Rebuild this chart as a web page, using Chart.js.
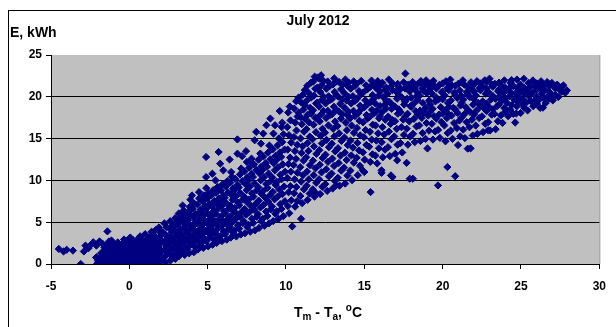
<!DOCTYPE html>
<html>
<head>
<meta charset="utf-8">
<script src="https://cdn.jsdelivr.net/npm/chart.js@4.4.1/dist/chart.umd.min.js"></script>
<style>
  html, body { margin: 0; padding: 0; background: #fff; }
  #chart-canvas { display: block; }
</style>
</head>
<body>
<canvas id="chart-canvas" width="616" height="327"></canvas>
<script>
//////////////////////////////////////////////////
/////       Data  /////////
//////////////////////////////////////////////////

var chartTitle = "July 2012";
var yTitle = "E, kWh";
var xTicks = [-5, 0, 5, 10, 15, 20, 25, 30];
var yTicks = [0, 5, 10, 15, 20, 25];

// pairs: x (Tm - Ta, °C), y (E, kWh)
var tailPts = [
    -4.5,1.8, -4.2,1.5, -4.0,1.7, -3.6,1.6, -3.1,0.0, -2.9,1.5, -2.8,2.2, -2.6,1.9, -2.4,2.4,
    -2.3,2.6, -2.1,2.2, -1.9,2.7, -1.7,2.4, -1.4,3.9, -2.1,0.8, -1.8,1.3, -1.6,2.0, -1.5,1.5,
    -1.3,2.7, -1.2,1.8, -2.0,0.4, -1.9,0.0
];

var originPts = [
    -2.05,0.05, -1.92,0.42, -2.12,0.78, -1.96,0.18,
    -1.74,0.02, -1.61,0.47, -1.83,0.86, -1.68,1.27, -1.57,1.66, -1.78,0.31,
    -1.43,0.12, -1.29,0.58, -1.52,0.95, -1.38,1.41, -1.27,1.83, -1.49,2.17, -1.36,0.33,
    -1.12,0.03, -0.97,0.36, -1.21,0.74, -1.06,1.19, -0.94,1.62, -1.18,2.04, -1.03,2.47, -1.14,2.81,
    -0.83,0.15, -0.68,0.55, -0.91,0.97, -0.77,1.35, -0.66,1.78, -0.88,2.23, -0.74,2.58,
    -0.52,0.02, -0.41,0.38, -0.63,0.83, -0.47,1.16, -0.36,1.59, -0.58,1.98, -0.45,2.43, -0.34,2.93,
    -0.24,0.11, -0.08,0.52, -0.31,0.91, -0.17,1.33, -0.05,1.72, -0.28,2.12, -0.13,2.52, -0.02,3.04,
    0.07,0.03, 0.21,0.44, -0.01,0.82, 0.14,1.24, 0.26,1.63, 0.03,2.06, 0.18,2.39, 0.24,2.84, 0.06,3.17,
    0.38,0.14, 0.52,0.49, 0.31,0.93, 0.44,1.31, 0.56,1.74, 0.33,2.15, 0.47,2.56, 0.53,2.96,
    0.71,0.01, 0.84,0.37, 0.63,0.79, 0.76,1.18, 0.87,1.61, 0.64,2.03, 0.73,2.44, 0.86,2.87, 0.69,3.31,
    1.02,0.09, 1.13,0.53, 0.94,0.88, 1.07,1.34, 1.16,1.69, 0.96,2.12, 1.04,2.53, 1.15,2.93, 1.01,3.57,
    1.28,0.02, 1.41,0.41, 1.23,0.84, 1.34,1.22, 1.44,1.63, 1.22,1.97, 1.36,2.41, 1.43,2.83, 1.29,3.24, 1.42,3.86,
    1.57,0.12, 1.71,0.46, 1.52,0.91, 1.63,1.27, 1.74,1.71, 1.55,2.14, 1.62,2.48, 1.73,2.91, 1.58,3.38, 1.69,4.07,
    1.88,0.04, 2.02,0.39, 1.83,0.82, 1.94,1.24, 2.04,1.58, 1.85,2.02, 1.97,2.43, 2.03,2.79, 1.91,3.23, 2.01,3.72, 1.89,4.38
];

var risePts = [
    2.31,0.18, 2.17,0.71, 2.41,1.12, 2.26,1.69, 2.35,2.05, 2.19,2.62, 2.43,2.94, 2.28,3.51, 2.14,3.83, 2.39,4.41, 2.24,4.86,
    2.62,0.41, 2.75,0.86, 2.51,1.39, 2.68,1.72, 2.57,2.38, 2.73,2.81, 2.54,3.19, 2.69,3.77, 2.59,4.22, 2.76,4.63, 2.61,5.12,
    2.94,0.62, 2.83,1.05, 3.03,1.58, 2.88,2.03, 2.97,2.49, 2.81,3.08, 3.05,3.42, 2.92,3.96, 2.86,4.51, 3.01,4.87, 2.93,5.49,
    3.17,0.93, 3.32,1.31, 3.11,1.84, 3.26,2.21, 3.14,2.78, 3.35,3.17, 3.19,3.72, 3.28,4.13, 3.09,4.69, 3.24,5.21, 3.33,5.62, 3.16,6.05,
    3.53,1.08, 3.42,1.62, 3.64,1.97, 3.48,2.58, 3.59,2.96, 3.41,3.47, 3.67,3.91, 3.51,4.44, 3.45,4.97, 3.62,5.38, 3.54,5.94, 3.47,6.41,
    3.82,1.27, 3.71,1.75, 3.93,2.33, 3.78,2.71, 3.88,3.28, 3.72,3.74, 3.95,4.22, 3.81,4.76, 3.74,5.19, 3.89,5.83, 3.79,6.29, 3.86,6.84,
    4.12,1.41, 4.24,1.96, 4.03,2.41, 4.17,2.97, 4.08,3.46, 4.26,3.89, 4.05,4.48, 4.19,4.93, 4.11,5.52, 4.22,6.01, 4.04,6.63, 4.15,7.22,
    4.38,1.73, 4.52,2.19, 4.31,2.78, 4.47,3.24, 4.36,3.82, 4.55,4.27, 4.33,4.86, 4.49,5.33, 4.41,5.94, 4.53,6.47, 4.35,7.12, 4.46,7.86,
    4.72,1.92, 4.61,2.51, 4.83,2.97, 4.68,3.58, 4.79,4.04, 4.64,4.63, 4.85,5.12, 4.71,5.74, 4.62,6.26, 4.81,6.91, 4.69,7.48, 4.76,8.21,
    5.03,2.11, 4.92,2.72, 5.14,3.21, 4.98,3.83, 5.09,4.29, 4.94,4.91, 5.16,5.42, 5.01,6.06, 4.93,6.63, 5.12,7.21, 4.97,7.86, 5.06,8.52, 4.91,9.08,
    5.32,2.31, 5.43,2.89, 5.21,3.47, 5.37,3.98, 5.26,4.61, 5.45,5.13, 5.23,5.71, 5.39,6.34, 5.29,6.87, 5.44,7.52, 5.22,8.17, 5.35,8.83,
    5.58,2.53, 5.71,3.12, 5.52,3.63, 5.66,4.27, 5.55,4.84, 5.74,5.38, 5.51,6.02, 5.67,6.61, 5.59,7.26, 5.73,7.83, 5.54,8.51, 5.64,9.22,
    5.91,2.74, 5.82,3.36, 6.03,3.94, 5.87,4.52, 5.98,5.13, 5.83,5.67, 6.04,6.32, 5.89,6.94, 5.81,7.53, 6.01,8.18, 5.86,8.81, 5.95,9.53,
    6.22,2.91, 6.11,3.58, 6.33,4.13, 6.17,4.79, 6.28,5.36, 6.12,6.03, 6.35,6.61, 6.19,7.27, 6.09,7.92, 6.31,8.56, 6.16,9.27, 6.25,9.91,
    6.48,3.16, 6.62,3.78, 6.41,4.44, 6.57,5.02, 6.46,5.71, 6.64,6.33, 6.43,6.97, 6.59,7.68, 6.51,8.31, 6.63,9.04, 6.44,9.73, 6.55,10.42,
    6.83,3.29, 6.71,4.02, 6.93,4.64, 6.77,5.36, 6.88,5.97, 6.72,6.71, 6.94,7.34, 6.79,8.08, 6.69,8.76, 6.91,9.47, 6.76,10.18,
    7.12,3.53, 7.01,4.23, 7.23,4.91, 7.07,5.63, 7.18,6.28, 7.02,7.03, 7.24,7.71, 7.09,8.46, 6.99,9.17, 7.21,9.93, 7.06,10.71, 7.14,11.42,
    7.38,3.68, 7.52,4.44, 7.31,5.12, 7.47,5.91, 7.36,6.58, 7.54,7.36, 7.33,8.04, 7.49,8.83, 7.41,9.56, 7.53,10.34, 7.35,11.07,
    7.72,3.86, 7.61,4.68, 7.83,5.41, 7.67,6.19, 7.78,6.92, 7.62,7.71, 7.84,8.43, 7.69,9.23, 7.59,9.97, 7.81,10.79, 7.66,11.53, 7.74,12.31,
    8.02,4.03, 7.91,4.92, 8.13,5.64, 7.97,6.47, 8.08,7.23, 7.92,8.06, 8.14,8.82, 7.99,9.63, 7.89,10.41, 8.11,11.24, 7.96,11.93,
    8.28,4.31, 8.42,5.13, 8.21,5.97, 8.37,6.76, 8.26,7.58, 8.44,8.37, 8.23,9.18, 8.39,10.02, 8.31,10.83, 8.43,11.66, 8.25,12.48, 8.36,13.21,
    8.63,4.58, 8.51,5.41, 8.73,6.27, 8.57,7.08, 8.68,7.93, 8.52,8.71, 8.74,9.57, 8.59,10.38, 8.49,11.24, 8.71,12.07, 8.56,12.86,
    8.92,4.86, 8.81,5.73, 9.03,6.54, 8.87,7.42, 8.98,8.23, 8.82,9.11, 9.04,9.93, 8.89,10.81, 8.79,11.63, 9.01,12.52, 8.86,13.34, 8.94,14.17,
    9.18,5.13, 9.32,6.02, 9.11,6.88, 9.27,7.74, 9.16,8.62, 9.34,9.46, 9.13,10.34, 9.29,11.21, 9.21,12.06, 9.33,12.93, 9.15,13.71,
    9.52,5.41, 9.41,6.31, 9.63,7.16, 9.47,8.07, 9.58,8.91, 9.42,9.82, 9.64,10.67, 9.49,11.57, 9.39,12.43, 9.61,13.34, 9.46,14.18, 9.54,15.02,
    9.83,5.72, 9.71,6.58, 9.93,7.51, 9.77,8.36, 9.88,9.27, 9.72,10.14, 9.94,11.03, 9.79,11.92, 9.69,12.81, 9.91,13.69, 9.76,14.58, 9.84,15.51, 9.73,16.38
];

var riseSparse = [
    4.9,12.8, 4.9,10.4, 5.7,13.4, 5.8,12.0, 6.0,11.2, 6.5,11.0, 6.9,14.9, 6.9,13.2, 7.45,13.5,
    7.5,12.2, 7.8,12.6, 8.1,15.8, 8.4,14.4, 8.75,16.6, 9.2,15.6, 9.6,18.3, 9.76,16.9, 9.3,16.6,
    8.55,15.6, 5.5,10.0, 4.45,8.6, 3.9,7.7, 6.4,12.5, 7.2,12.9, 8.0,14.8, 9.0,17.4, 5.3,10.8,
    3.4,7.0, 4.0,8.2
];

var midPts = [
    10.21,6.07, 10.12,6.93, 10.34,7.62, 10.17,8.58, 10.28,9.31, 10.09,10.27, 10.31,11.04, 10.16,11.96, 10.26,12.73, 10.11,13.68, 10.33,14.52, 10.19,15.41, 10.08,16.37, 10.29,17.18, 10.14,18.12, 10.24,18.83,
    10.58,6.86, 10.71,7.53, 10.52,8.47, 10.66,9.21, 10.55,10.13, 10.73,10.92, 10.49,11.84, 10.64,12.57, 10.57,13.51, 10.72,14.26, 10.51,15.19, 10.67,15.97, 10.59,16.91, 10.74,17.64, 10.53,18.59, 10.65,19.48,
    11.03,7.28, 10.92,8.14, 11.14,8.93, 10.97,9.86, 11.08,10.63, 10.91,11.58, 11.12,12.37, 10.99,13.29, 11.06,14.08, 10.93,15.02, 11.15,15.83, 11.01,16.72, 10.94,17.56, 11.11,18.47, 10.98,19.31, 11.07,20.24,
    11.38,7.67, 11.51,8.43, 11.32,9.37, 11.46,10.14, 11.35,11.06, 11.53,11.82, 11.29,12.76, 11.44,13.53, 11.37,14.45, 11.52,15.24, 11.31,16.13, 11.47,16.94, 11.39,17.87, 11.54,18.68, 11.33,19.56, 11.45,20.47, 11.36,21.33,
    11.82,8.06, 11.71,8.93, 11.93,9.71, 11.77,10.63, 11.88,11.44, 11.72,12.36, 11.94,13.17, 11.79,14.06, 11.69,14.92, 11.91,15.77, 11.76,16.66, 11.86,17.48, 11.73,18.39, 11.92,19.21, 11.78,20.13, 11.87,20.96, 11.74,21.82, 11.83,22.41,
    12.18,8.37, 12.32,9.23, 12.11,10.14, 12.27,10.96, 12.16,11.87, 12.34,12.68, 12.13,13.61, 12.29,14.42, 12.21,15.33, 12.33,16.17, 12.15,17.06, 12.26,17.91, 12.12,18.83, 12.31,19.64, 12.19,20.57, 12.28,21.38, 12.14,22.16, 12.24,22.58,
    12.63,8.74, 12.51,9.56, 12.73,10.48, 12.57,11.33, 12.68,12.22, 12.52,13.08, 12.74,13.97, 12.59,14.84, 12.49,15.71, 12.71,16.58, 12.56,17.46, 12.67,18.33, 12.53,19.21, 12.72,20.06, 12.58,20.97, 12.66,21.83,
    12.98,9.03, 13.12,9.93, 12.91,10.82, 13.07,11.73, 12.96,12.61, 13.14,13.48, 12.93,14.39, 13.09,15.26, 13.01,16.17, 13.13,17.04, 12.95,17.93, 13.06,18.81, 12.92,19.72, 13.11,20.58, 12.99,21.47, 13.08,22.21,
    13.42,9.37, 13.31,10.31, 13.53,11.17, 13.37,12.08, 13.48,12.97, 13.32,13.86, 13.54,14.72, 13.39,15.63, 13.29,16.51, 13.51,17.39, 13.36,18.27, 13.47,19.16, 13.33,20.03, 13.52,20.91, 13.38,21.78,
    13.78,9.62, 13.92,10.58, 13.71,11.53, 13.87,12.44, 13.76,13.31, 13.94,14.22, 13.73,15.13, 13.89,16.01, 13.81,16.92, 13.93,17.79, 13.75,18.68, 13.86,19.57, 13.72,20.44, 13.91,21.33, 13.79,22.07,
    14.22,10.03, 14.11,11.17, 14.33,12.12, 14.17,12.98, 14.28,13.91, 14.12,14.77, 14.34,15.68, 14.19,16.56, 14.09,17.43, 14.31,18.32, 14.16,19.21, 14.27,20.08, 14.13,20.97, 14.32,21.84,
    14.58,10.62, 14.72,11.74, 14.51,12.71, 14.67,13.58, 14.56,14.49, 14.74,15.38, 14.53,16.27, 14.69,17.14, 14.61,18.03, 14.73,18.92, 14.55,19.79, 14.66,20.68, 14.52,21.57
];

var midFill = [
    10.8,18.1, 10.8,19.9, 11.2,17.4, 11.2,19.0, 11.2,20.8, 11.6,18.0, 11.6,19.9, 11.6,21.7,
    12.0,17.5, 12.0,19.3, 12.0,21.1, 12.0,22.3, 12.4,18.3, 12.4,20.0, 12.4,21.9, 12.8,17.8,
    12.8,19.6, 12.8,21.3, 13.2,18.4, 13.2,20.2, 13.2,21.8, 13.6,17.9, 13.6,19.7, 13.6,21.4,
    14.0,18.2, 14.0,20.0, 14.0,21.7, 14.4,17.7, 14.4,19.5, 14.4,21.3, 14.8,18.5, 14.8,20.3, 14.8,21.9
];

var plateauPts = [
    15.02,12.48, 14.91,13.36, 15.13,14.24, 14.97,15.17, 15.08,16.03, 14.92,16.94, 15.14,17.82, 14.99,18.73, 15.06,19.59, 14.93,20.52, 15.11,21.38,
    15.38,12.21, 15.52,13.12, 15.31,14.03, 15.47,14.87, 15.36,15.81, 15.54,16.66, 15.33,17.58, 15.49,18.44, 15.41,19.36, 15.53,20.21, 15.35,21.13, 15.46,21.94,
    15.82,12.03, 15.71,12.97, 15.93,13.84, 15.77,14.76, 15.88,15.63, 15.72,16.57, 15.94,17.43, 15.79,18.36, 15.69,19.22, 15.91,20.14, 15.76,21.02, 15.86,21.87,
    16.18,12.76, 16.32,13.68, 16.11,14.57, 16.27,15.48, 16.16,16.37, 16.34,17.26, 16.13,18.17, 16.29,19.04, 16.21,19.96, 16.33,20.83, 16.15,21.68,
    16.63,12.91, 16.51,13.97, 16.73,14.93, 16.57,15.84, 16.68,16.76, 16.52,17.63, 16.74,18.56, 16.59,19.43, 16.49,20.37, 16.71,21.24, 16.56,22.07,
    16.98,13.18, 17.12,14.27, 16.91,15.26, 17.07,16.17, 16.96,17.08, 17.14,17.97, 16.93,18.86, 17.09,19.77, 17.01,20.66, 17.13,21.54,
    17.42,13.34, 17.31,14.46, 17.53,15.44, 17.37,16.36, 17.48,17.27, 17.32,18.16, 17.54,19.07, 17.39,19.94, 17.29,20.87, 17.51,21.73,
    17.78,14.27, 17.92,15.24, 17.71,16.18, 17.87,17.06, 17.76,17.97, 17.94,18.87, 17.73,19.76, 17.89,20.64, 17.81,21.47, 17.62,22.78,
    18.22,14.58, 18.11,15.57, 18.33,16.46, 18.17,17.36, 18.28,18.27, 18.12,19.14, 18.34,20.06, 18.19,20.94, 18.09,21.76,
    18.58,14.71, 18.72,15.66, 18.51,16.57, 18.67,17.47, 18.56,18.36, 18.74,19.26, 18.53,20.14, 18.69,21.03, 18.61,21.88,
    19.03,13.82, 18.91,14.96, 19.13,15.94, 18.97,16.86, 19.08,17.76, 18.92,18.66, 19.14,19.57, 18.99,20.44, 19.06,21.33, 18.94,21.97,
    19.38,14.88, 19.52,15.86, 19.31,16.77, 19.47,17.66, 19.36,18.57, 19.54,19.46, 19.33,20.37, 19.49,21.24, 19.41,21.91,
    19.82,15.08, 19.71,16.04, 19.93,16.96, 19.77,17.87, 19.88,18.76, 19.72,19.66, 19.94,20.54, 19.79,21.43,
    20.18,14.68, 20.32,15.66, 20.11,16.57, 20.27,17.46, 20.16,18.36, 20.34,19.26, 20.13,20.16, 20.29,21.04, 20.21,21.86,
    20.63,14.97, 20.51,15.96, 20.73,16.86, 20.57,17.76, 20.68,18.67, 20.52,19.56, 20.74,20.46, 20.59,21.36, 20.49,22.06,
    20.98,14.22, 21.12,15.27, 20.91,16.26, 21.07,17.16, 20.96,18.07, 21.14,18.96, 20.93,19.87, 21.09,20.76, 21.01,21.57,
    21.42,15.06, 21.31,16.07, 21.53,16.96, 21.37,17.87, 21.48,18.76, 21.32,19.67, 21.54,20.56, 21.39,21.44, 21.29,21.97,
    21.78,13.83, 21.92,15.37, 21.71,16.36, 21.87,17.26, 21.76,18.17, 21.94,19.06, 21.73,19.97, 21.89,20.86, 21.81,21.74,
    22.22,15.57, 22.11,16.56, 22.33,17.46, 22.17,18.37, 22.28,19.26, 22.12,20.16, 22.34,21.06, 22.19,21.87,
    22.58,15.78, 22.72,16.77, 22.51,17.66, 22.67,18.57, 22.56,19.46, 22.74,20.37, 22.53,21.26, 22.69,21.97,
    23.03,15.98, 22.91,16.96, 23.13,17.86, 22.97,18.76, 23.08,19.67, 22.92,20.56, 23.14,21.46, 22.99,22.17,
    23.38,16.12, 23.52,17.07, 23.31,17.96, 23.47,18.87, 23.36,19.76, 23.54,20.67, 23.33,21.56,
    23.82,16.88, 23.71,17.77, 23.93,18.66, 23.77,19.56, 23.88,20.46, 23.72,21.36, 23.94,21.97,
    24.18,17.68, 24.32,18.47, 24.11,19.27, 24.27,20.07, 24.16,20.86, 24.34,21.66,
    24.63,16.92, 24.51,17.96, 24.73,18.86, 24.57,19.66, 24.68,20.46, 24.52,21.26, 24.74,22.06,
    24.98,18.07, 25.12,19.06, 24.91,19.86, 25.07,20.66, 24.96,21.46, 25.18,22.16,
    25.42,18.37, 25.31,19.26, 25.53,20.06, 25.37,20.86, 25.48,21.66,
    25.78,18.87, 25.92,19.66, 25.71,20.46, 25.87,21.26, 25.76,21.96,
    26.22,18.68, 26.11,19.56, 26.33,20.36, 26.17,21.16, 26.28,21.86,
    26.58,19.27, 26.72,20.06, 26.51,20.86, 26.67,21.76,
    27.03,19.57, 26.91,20.36, 27.13,21.16, 26.97,21.66,
    27.38,19.97, 27.52,20.76, 27.31,21.46,
    27.82,20.47, 27.71,21.36, 27.93,20.77
];

var plateauFill = [
    15.2,17.4, 15.2,19.1, 15.2,20.9, 15.6,18.0, 15.6,19.8, 15.6,21.5, 16.0,17.7, 16.0,18.9, 16.0,20.6, 16.0,21.3,
    16.4,18.6, 16.4,19.5, 16.4,21.1, 16.8,17.2, 16.8,19.0, 16.8,20.8, 16.8,21.6, 17.2,18.5, 17.2,20.2, 17.2,21.2,
    17.6,17.6, 17.6,19.4, 17.6,21.0, 18.0,18.8, 18.0,19.9, 18.0,21.3, 18.4,17.9, 18.4,19.6, 18.4,20.5, 18.4,21.5,
    18.8,18.1, 18.8,20.7, 18.8,21.4, 19.2,18.2, 19.2,19.1, 19.2,20.9, 19.2,21.6, 19.6,17.4, 19.6,19.9, 19.6,21.0,
    20.0,18.0, 20.0,19.7, 20.0,20.6, 20.0,21.6, 20.4,17.9, 20.4,18.8, 20.4,20.8, 20.4,21.5, 20.8,18.5, 20.8,20.2,
    20.8,21.3, 21.2,17.5, 21.2,19.3, 21.2,20.1, 21.2,21.7, 21.6,18.4, 21.6,20.3, 21.6,21.2, 22.0,17.9, 22.0,19.7,
    22.0,20.6, 22.0,21.5, 22.4,18.9, 22.4,20.8, 22.4,21.6, 22.8,18.3, 22.8,19.2, 22.8,21.0, 22.8,21.8, 23.2,18.5,
    23.2,20.1, 23.2,21.2, 23.6,19.1, 23.6,20.0, 23.6,20.9, 23.6,21.7, 24.0,18.2, 24.0,19.8, 24.0,21.1, 24.4,19.0,
    24.4,20.4, 24.4,21.3, 24.4,22.0, 24.8,19.4, 24.8,20.2, 24.8,21.0, 25.2,18.7, 25.2,19.6, 25.2,20.4, 25.2,21.1,
    25.6,19.5, 25.6,20.3, 25.6,21.2, 26.0,19.2, 26.0,20.0, 26.0,20.8, 26.0,21.6, 26.4,19.9, 26.4,20.7, 26.4,21.4,
    26.8,19.8, 26.8,20.6, 26.8,21.3, 27.2,20.2, 27.2,21.0, 27.6,20.6, 27.6,21.2
];

var lowSparse = [
    10.4,4.5, 10.96,5.4, 15.4,8.6, 15.0,11.0, 14.9,11.2, 16.1,11.2, 16.7,10.6, 16.1,10.9, 16.8,10.4,
    17.9,10.2, 18.1,10.2, 19.7,9.4, 20.8,10.5, 20.3,11.6, 17.7,12.1, 17.1,12.4, 21.6,13.8,
    22.9,16.0, 26.4,18.7, 24.7,18.0, 13.2,9.4, 11.9,8.5
];

//////////////////////////////////////////////////
/////       Build points + plugins       /////////
//////////////////////////////////////////////////

function toPoints(list) {
    var out = [];
    for (var i = 0; i < list.length; i += 2) {
        out.push({ x: list[i], y: list[i + 1] });
    }
    return out;
}

var allPoints = [].concat(
    toPoints(tailPts), toPoints(originPts), toPoints(risePts), toPoints(riseSparse),
    toPoints(midPts), toPoints(midFill), toPoints(plateauPts), toPoints(plateauFill), toPoints(lowSparse)
);

var FONT = "'Liberation Sans', Arial, sans-serif";

var frame = {
    id: 'frame',
    beforeDraw: function (chart) {
        var ctx = chart.ctx, a = chart.chartArea;
        ctx.save();
        ctx.fillStyle = '#fff';
        ctx.fillRect(0, 0, chart.width, chart.height);
        ctx.strokeStyle = '#000';
        ctx.lineWidth = 1;
        ctx.strokeRect(8.5, 10.5, 700, 400);
        ctx.fillStyle = '#c0c0c0';
        ctx.fillRect(a.left, a.top, a.right - a.left, a.bottom - a.top);
        ctx.strokeStyle = '#8c8c8c';
        ctx.beginPath();
        ctx.moveTo(a.right + 0.5, a.top);
        ctx.lineTo(a.right + 0.5, a.bottom);
        ctx.stroke();
        ctx.restore();
    },
    afterDraw: function (chart) {
        var ctx = chart.ctx;
        ctx.save();
        ctx.fillStyle = '#000';
        ctx.textBaseline = 'middle';
        ctx.font = 'bold 14px ' + FONT;
        ctx.textAlign = 'center';
        ctx.fillText(chartTitle, 318, 21);
        ctx.textAlign = 'left';
        ctx.fillText(yTitle, 10, 33);

        // x axis title with sub/superscripts
        var parts = [
            { t: 'T', f: 'bold 14px ', dy: 0 },
            { t: 'm', f: 'bold 10px ', dy: 4 },
            { t: ' - T', f: 'bold 14px ', dy: 0 },
            { t: 'a', f: 'bold 10px ', dy: 4 },
            { t: ', ', f: 'bold 14px ', dy: 0 },
            { t: 'o', f: 'bold 10px ', dy: -5 },
            { t: 'C', f: 'bold 14px ', dy: 0 }
        ];
        var total = 0;
        parts.forEach(function (p) { ctx.font = p.f + FONT; p.w = ctx.measureText(p.t).width; total += p.w; });
        var x = 328 - total / 2;
        parts.forEach(function (p) {
            ctx.font = p.f + FONT;
            ctx.fillText(p.t, x, 313 + p.dy);
            x += p.w;
        });
        ctx.restore();
    }
};

//////////////////////////////////////////////////
/////       Chart                         ////////
//////////////////////////////////////////////////

var ctx = document.getElementById('chart-canvas').getContext('2d');
var myChart = new Chart(ctx, {
    type: 'scatter',
    data: {
        datasets: [
            {
                label: "E",
                data: allPoints,
                pointStyle: 'rectRot',
                pointRadius: 3.6,
                pointBorderWidth: 1,
                backgroundColor: "#000080",
                borderColor: "#000080",
            }
        ]
    },
    options: {
        responsive: false,
        animation: false,
        layout: { padding: { top: 55, right: 9, left: 0, bottom: 0 } },
        plugins: {
            legend: { display: false },
            tooltip: { enabled: false },
            title: { display: false }
        },
        scales: {
            x: {
                type: 'linear',
                min: -5,
                max: 30,
                afterBuildTicks: function (axis) {
                    axis.ticks = xTicks.map(function (v) { return { value: v }; });
                },
                afterFit: function (scale) { scale.height = 63; },
                ticks: { color: '#000', font: { family: FONT, size: 12, weight: 'bold' }, padding: 10, maxRotation: 0 },
                grid: { drawOnChartArea: false, drawTicks: true, tickLength: 5, tickColor: '#000' },
                border: { color: '#000', width: 1 }
            },
            y: {
                min: 0,
                max: 25,
                afterBuildTicks: function (axis) {
                    axis.ticks = yTicks.map(function (v) { return { value: v }; });
                },
                afterFit: function (scale) { scale.width = 51; },
                ticks: { color: '#000', font: { family: FONT, size: 12, weight: 'bold' }, padding: 4 },
                grid: {
                    color: function (c) { return (c.tick && c.tick.value === 25) ? 'rgba(0,0,0,0)' : '#000'; },
                    lineWidth: 1,
                    drawTicks: true,
                    tickLength: 5,
                    tickColor: '#000'
                },
                border: { color: '#000', width: 1 }
            }
        }
    },
    plugins: [frame]
});
</script>
</body>
</html>
